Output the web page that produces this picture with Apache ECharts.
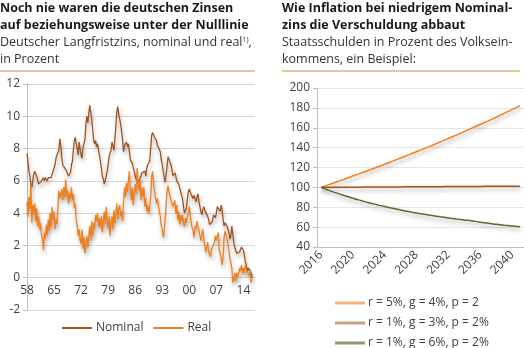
<!DOCTYPE html>
<html><head><meta charset="utf-8">
<script src="https://cdn.jsdelivr.net/npm/echarts@6/dist/echarts.min.js"></script>
<style>html,body{margin:0;padding:0;background:#fff}#c{width:524px;height:348px}</style>
</head><body><div id="c"></div>
<script>
// Left chart: quarterly values starting 1958 Q1
const startYear = 1958;
const nominal = [
7.7,7.2,6.6,6.3, 5.8,5.6,6.0,6.4, 6.6,6.7,6.5,6.1, 5.8,5.7,5.9,6.0, 6.1,6.2,6.0,6.2,
6.1,6.0,6.2,6.2, 6.3,6.2,6.4,6.5, 6.8,7.0,7.4,7.6, 7.5,7.9,8.6,8.2, 7.4,7.0,6.9,6.8,
6.7,6.6,6.5,6.3, 6.3,6.5,7.0,7.2, 7.9,8.5,8.7,8.3, 8.0,7.6,8.4,8.0, 7.6,7.4,8.1,8.3,
8.6,9.5,10.0,9.6, 10.2,10.7,10.6,9.8, 9.2,8.5,8.3,8.5, 8.1,8.3,7.9,7.6, 7.2,6.8,6.3,6.1,
5.8,5.9,6.3,6.6, 7.0,7.5,7.6,7.9, 8.4,8.3,7.9,8.6, 9.4,10.3,10.6,10.1, 10.0,9.5,9.0,8.5,
7.8,8.2,8.3,8.4, 8.1,8.3,7.8,7.3, 7.3,7.1,6.8,6.6, 6.3,6.1,6.0,6.2, 6.0,5.9,6.3,6.5,
6.4,6.6,6.6,6.3, 6.8,7.0,6.9,7.2, 8.0,8.8,9.0,8.9, 8.7,8.6,8.5,8.2, 8.1,8.2,7.8,7.3,
7.0,6.6,6.2,5.9, 6.0,6.9,7.5,7.6, 7.4,7.0,6.7,6.3, 6.2,6.5,6.3,6.0, 5.9,5.8,5.6,5.5,
5.1,4.9,4.4,4.0, 4.0,4.3,4.9,5.3, 5.5,5.3,5.3,5.2, 4.9,5.1,5.0,4.7, 5.0,5.2,4.7,4.4,
4.1,3.9,4.2,4.4, 4.2,4.2,4.1,3.8, 3.6,3.3,3.2,3.3, 3.5,3.9,3.8,3.7, 4.0,4.4,4.4,4.3,
4.1,4.5,4.2,3.6, 3.2,3.4,3.3,3.2, 3.2,2.8,2.4,2.6, 3.2,3.1,2.2,1.9, 1.9,1.5,1.4,1.5,
1.6,1.6,1.9,1.8, 1.7,1.4,1.0,0.8, 0.4,0.6,0.7,0.6, 0.3,0.0
];
const real = [
4.7,3.8,5.0,4.2, 5.9,3.4,4.5,4.0, 4.6,3.5,4.3,3.2, 3.8,3.0,3.4,2.6, 2.4,1.7,2.8,2.4,
3.3,2.6,3.6,2.9, 4.0,3.1,4.4,3.6, 4.1,3.0,3.6,3.3, 4.3,5.4,4.9,5.2, 5.5,4.8,5.6,5.0,
6.1,5.0,5.4,4.6, 5.2,4.9,5.6,4.8, 5.2,4.3,4.6,3.5, 3.2,2.6,3.0,2.3, 2.1,3.0,1.8,2.5,
1.5,2.2,2.6,1.9, 2.6,3.2,2.3,3.5, 2.6,3.4,3.0,3.9, 3.5,4.0,3.2,3.7, 3.1,3.8,2.8,3.5,
4.1,3.3,4.4,3.6, 3.0,3.8,2.6,3.4, 3.8,3.0,4.2,3.4, 4.0,4.6,3.6,4.3, 4.5,3.8,4.1,3.5,
4.8,5.6,5.0,5.9, 5.3,6.0,6.6,5.5, 4.8,5.6,4.5,5.2, 5.8,5.2,6.8,5.6, 5.4,6.2,4.8,5.6,
5.0,5.6,4.4,4.9, 4.1,4.5,4.0,4.4, 5.0,6.2,6.6,5.8, 5.9,5.0,4.6,4.9, 4.5,4.6,3.8,3.2,
3.0,2.5,2.9,3.6, 4.5,5.4,5.7,5.3, 5.1,4.8,4.7,4.4, 4.3,4.8,4.0,4.5, 3.6,4.1,3.3,3.9,
3.5,3.9,3.4,3.2, 3.7,3.4,3.8,4.0, 4.4,3.9,3.4,3.1, 2.9,2.5,3.2,3.0, 3.5,3.4,2.9,2.6,
2.3,2.7,3.0,2.4, 2.0,1.6,1.9,2.2, 1.6,1.5,1.3,1.8, 1.8,2.0,2.2,2.6, 2.3,2.6,2.8,1.7,
1.5,1.2,0.8,1.3, 2.5,2.9,3.0,2.4, 2.1,1.7,1.2,0.9, 0.6,-0.3,-0.1,0.3, -0.2,0.3,0.0,-0.1,
0.6,0.4,0.8,0.3, 0.6,0.3,0.8,0.5, 0.4,0.6,0.1,0.4, -0.3,-0.1
];
const leftNames = ['Nominal', 'Real'];

// Right chart: annual values 2016..2041
const years = [];
for (let y = 2016; y <= 2041; y++) years.push(String(y));
const sA = [100,102.8,105.6,108.5,111.4,114.3,117.3,120.3,123.3,126.4,129.5,132.7,135.9,139.1,142.4,145.8,149.2,152.6,156.1,159.7,163.3,166.9,170.6,174.4,178.2,182.3];
const sB = [100,100.05,100.1,100.15,100.2,100.25,100.3,100.35,100.4,100.45,100.5,100.55,100.6,100.65,100.7,100.75,100.8,100.85,100.9,100.95,101.0,101.05,101.1,101.15,101.2,101.25];
const sC = [100,97.0,94.2,91.6,89.1,86.8,84.6,82.6,80.7,78.9,77.2,75.7,74.2,72.9,71.6,70.4,69.3,68.2,67.2,66.2,64.9,63.8,62.9,62.0,61.2,60.4];
const rightNames = ['r = 5%, g = 4%, p = 2', 'r = 1%, g = 3%, p = 2%', 'r = 1%, g = 6%, p = 2%'];

const toPairs = arr => arr.map((v, i) => [startYear + i / 4, v]);

const C_NOM = '#a2541c', C_REAL = '#f07f1c';
const C_A = '#f07f1c', C_B = '#a2541c', C_C = '#5b6b2c';
const FONT = '"Open Sans", sans-serif';
const axisTxt = {color: '#404040', fontSize: 12, fontFamily: FONT};
const shadow = {shadowColor: 'rgba(0,0,0,0.35)', shadowBlur: 4, shadowOffsetY: 3, shadowOffsetX: 1};

const chart = echarts.init(document.getElementById('c'), null, {renderer: 'canvas'});
const titleFont = 'bold 12.5px ' + FONT;
const subFont = '12.5px ' + FONT;
const txt = (x, y, t, font, fill) => ({type: 'text', left: x, top: y, style: {text: t, font: font, fill: fill || '#1a1a1a'}});
const leftGrid = {left: 27, top: 84, width: 228, height: 226};
const yMinL = -2, yMaxL = 12;
chart.setOption({
  animation: false,
  graphic: [
    txt(0, 2, 'Noch nie waren die deutschen Zinsen', titleFont),
    txt(0, 19, 'auf beziehungsweise unter der Nulllinie', titleFont),
    {type: 'text', left: 0, top: 36, style: {
      text: '{a|Deutscher Langfristzins, nominal und real}{s|1)}{a|,}',
      rich: {a: {font: subFont, fill: '#333'}, s: {fontSize: 7, fontFamily: FONT, fill: '#333', verticalAlign: 'top', padding: [0, 0, 6, 0]}}
    }},
    txt(0, 53, 'in Prozent', subFont, '#333'),
    txt(282, 2, 'Wie Inflation bei niedrigem Nominal-', titleFont),
    txt(282, 19, 'zins die Verschuldung abbaut', titleFont),
    txt(282, 36, 'Staatsschulden in Prozent des Volksein-', subFont, '#333'),
    txt(282, 53, 'kommens, ein Beispiel:', subFont, '#333'),
    {type: 'line', shape: {x1: 0, y1: 71, x2: 255, y2: 71}, style: {stroke: '#d9b978', lineWidth: 1.5}},
    {type: 'line', shape: {x1: 282, y1: 71, x2: 520, y2: 71}, style: {stroke: '#d9b978', lineWidth: 1.5}}
  ],
  grid: [
    leftGrid,
    {left: 317, top: 88, width: 207, height: 159}
  ],
  xAxis: [
    {type: 'value', gridIndex: 0, min: 1958, max: 2017, interval: 7,
     // place the axis (line + labels) on the zero line of the y axis
     offset: -leftGrid.height * (0 - yMinL) / (yMaxL - yMinL),
     axisLine: {show: true, onZero: false, lineStyle: {color: '#d9d9d9'}}, axisTick: {show: false},
     splitLine: {show: false},
     axisLabel: Object.assign({margin: 7, showMaxLabel: false, formatter: v => String(v % 100).padStart(2, '0')}, axisTxt)},
    {type: 'category', gridIndex: 1, data: years, boundaryGap: true,
     axisLine: {lineStyle: {color: '#bfbfbf'}},
     axisTick: {interval: 3, length: 4, lineStyle: {color: '#bfbfbf'}},
     axisLabel: Object.assign({interval: 3, rotate: 45, margin: 6}, axisTxt)}
  ],
  yAxis: [
    {type: 'value', gridIndex: 0, min: yMinL, max: yMaxL, interval: 2,
     axisLine: {show: true, onZero: false, lineStyle: {color: '#bfbfbf'}},
     axisTick: {show: true, length: 4, lineStyle: {color: '#bfbfbf'}},
     splitLine: {lineStyle: {color: '#d9d9d9'}},
     axisLabel: Object.assign({margin: 7}, axisTxt)},
    {type: 'value', gridIndex: 1, min: 40, max: 200, interval: 20,
     axisLine: {show: true, lineStyle: {color: '#bfbfbf'}},
     axisTick: {show: true, length: 4, lineStyle: {color: '#bfbfbf'}},
     splitLine: {lineStyle: {color: '#e6e6e6'}},
     axisLabel: Object.assign({margin: 7}, axisTxt)}
  ],
  legend: [
    {data: leftNames, left: 62, top: 322, padding: 0, icon: 'rect', itemWidth: 30, itemHeight: 2, itemGap: 10,
     textStyle: Object.assign({}, axisTxt, {padding: [0, 0, 0, -1]})},
    {data: [
       {name: rightNames[0], itemStyle: {color: '#f4b27c'}},
       {name: rightNames[1], itemStyle: {color: '#c9a07e'}},
       {name: rightNames[2], itemStyle: {color: '#8f9c70'}}],
     orient: 'vertical', left: 335, top: 296, height: 80, padding: 0, icon: 'rect', itemWidth: 30, itemHeight: 3, itemGap: 6,
     textStyle: Object.assign({}, axisTxt, {lineHeight: 14, padding: [0, 0, 0, -2]})}
  ],
  series: [
    {name: leftNames[0], type: 'line', xAxisIndex: 0, yAxisIndex: 0, data: toPairs(nominal), showSymbol: false,
     color: C_NOM, lineStyle: Object.assign({width: 1.3, color: C_NOM}, shadow)},
    {name: leftNames[1], type: 'line', xAxisIndex: 0, yAxisIndex: 0, data: toPairs(real), showSymbol: false,
     color: C_REAL, lineStyle: Object.assign({width: 1.3, color: C_REAL}, shadow)},
    {name: rightNames[0], type: 'line', xAxisIndex: 1, yAxisIndex: 1, data: sA, showSymbol: false, smooth: true,
     color: C_A, lineStyle: Object.assign({width: 1.5, color: C_A}, shadow)},
    {name: rightNames[1], type: 'line', xAxisIndex: 1, yAxisIndex: 1, data: sB, showSymbol: false, smooth: true,
     color: C_B, lineStyle: Object.assign({width: 1.5, color: C_B}, shadow)},
    {name: rightNames[2], type: 'line', xAxisIndex: 1, yAxisIndex: 1, data: sC, showSymbol: false, smooth: true,
     color: C_C, lineStyle: Object.assign({width: 1.5, color: C_C}, shadow)}
  ]
});
</script></body></html>
